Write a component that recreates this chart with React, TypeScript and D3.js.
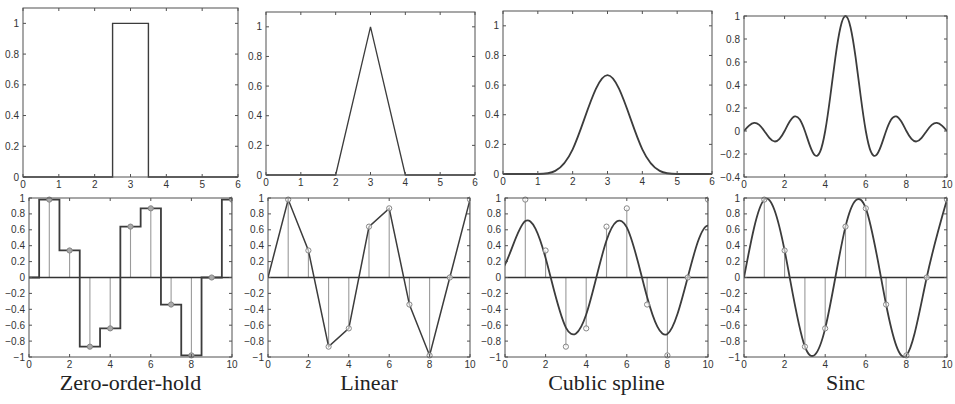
import React from "react";
import * as d3 from "d3";

// ---------- data ----------
const sampleX = [0, 1, 2, 3, 4, 5, 6, 7, 8, 9, 10];
const sampleY = [0, 0.98, 0.34, -0.87, -0.64, 0.64, 0.87, -0.34, -0.98, 0, 0.98];

const rectKernelX = [0, 2.5, 3.5, 6];
const rectKernelY = [0, 1, 0, 0];

const triKernelX = [0, 2, 3, 4, 6];
const triKernelY = [0, 0, 1, 0, 0];

const cubicCtrlX = [-1, 0, 1, 2, 3, 4, 5, 6, 7];
const cubicCtrlY = [0, 0, 0, 0, 1, 0, 0, 0, 0];

const sincKernelX = [
  0, 0.25, 0.5, 0.75, 1, 1.25, 1.5, 1.75, 2, 2.25, 2.5, 2.75, 3, 3.25, 3.5, 3.75, 4, 4.25, 4.5, 4.75,
  5, 5.25, 5.5, 5.75, 6, 6.25, 6.5, 6.75, 7, 7.25, 7.5, 7.75, 8, 8.25, 8.5, 8.75, 9, 9.25, 9.5, 9.75, 10,
];
const sincKernelY = [
  0, 0.047, 0.071, 0.053, 0, -0.06, -0.091, -0.069, 0, 0.082, 0.127, 0.1, 0, -0.129, -0.212, -0.18,
  0, 0.3, 0.637, 0.9, 1, 0.9, 0.637, 0.3, 0, -0.18, -0.212, -0.129, 0, 0.1, 0.127, 0.082, 0, -0.069,
  -0.091, -0.06, 0, 0.053, 0.071, 0.047, 0,
];

const topXTicks = [0, 1, 2, 3, 4, 5, 6];
const wideXTicks = [0, 2, 4, 6, 8, 10];
const topYTicks = [0, 0.2, 0.4, 0.6, 0.8, 1];
const sincTopYTicks = [-0.4, -0.2, 0, 0.2, 0.4, 0.6, 0.8, 1];
const bottomYTicks = [-1, -0.8, -0.6, -0.4, -0.2, 0, 0.2, 0.4, 0.6, 0.8, 1];

const captions = ["Zero-order-hold", "Linear", "Cublic spline", "Sinc"];

// ---------- layout ----------
type Box = { l: number; r: number; t: number; b: number };
const topBoxes: Box[] = [
  { l: 23, r: 238, t: 8, b: 177 },
  { l: 266, r: 475, t: 12, b: 175 },
  { l: 503, r: 712, t: 11, b: 174 },
  { l: 744, r: 947, t: 16, b: 177 },
];
const botBoxes: Box[] = [
  { l: 29, r: 232, t: 198, b: 357 },
  { l: 268, r: 470, t: 198, b: 357 },
  { l: 505, r: 708, t: 198, b: 357 },
  { l: 744, r: 947, t: 198, b: 357 },
];

const LINE = "#3c3c3c";
const BOX = "#505050";
const STEM = "#9a9a9a";
const MARK = "#858585";
const LABEL = "#333";
const FONT = "'Liberation Sans', Arial, Helvetica, sans-serif";

const fmt = (v: number) => {
  const s = d3.format("~g")(Math.round(v * 10) / 10);
  return s.replace("-", "\u2212");
};

type Scales = { x: d3.ScaleLinear<number, number>; y: d3.ScaleLinear<number, number> };

function Panel({
  id,
  box,
  xDomain,
  yDomain,
  xTicks,
  yTicks,
  children,
}: {
  id: string;
  box: Box;
  xDomain: [number, number];
  yDomain: [number, number];
  xTicks: number[];
  yTicks: number[];
  children: (s: Scales) => React.ReactNode;
}) {
  const x = d3.scaleLinear().domain(xDomain).range([box.l, box.r]);
  const y = d3.scaleLinear().domain(yDomain).range([box.b, box.t]);
  const tl = 3;
  return (
    <g>
      <defs>
        <clipPath id={id}>
          <rect x={box.l} y={box.t - 2} width={box.r - box.l} height={box.b - box.t + 4} />
        </clipPath>
      </defs>
      <g clipPath={`url(#${id})`}>{children({ x, y })}</g>
      <rect
        x={box.l}
        y={box.t}
        width={box.r - box.l}
        height={box.b - box.t}
        fill="none"
        stroke={BOX}
        strokeWidth={1}
      />
      {xTicks.map((v) => (
        <g key={"xt" + v}>
          <line x1={x(v)} x2={x(v)} y1={box.b} y2={box.b - tl} stroke={BOX} />
          <line x1={x(v)} x2={x(v)} y1={box.t} y2={box.t + tl} stroke={BOX} />
          <text
            x={x(v)}
            y={box.b + 10.5}
            textAnchor="middle"
            fontFamily={FONT}
            fontSize={10}
            fill={LABEL}
          >
            {fmt(v)}
          </text>
        </g>
      ))}
      {yTicks.map((v) => (
        <g key={"yt" + v}>
          <line x1={box.l} x2={box.l + tl} y1={y(v)} y2={y(v)} stroke={BOX} />
          <line x1={box.r} x2={box.r - tl} y1={y(v)} y2={y(v)} stroke={BOX} />
          <text
            x={box.l - 4}
            y={y(v)}
            dy="0.35em"
            textAnchor="end"
            fontFamily={FONT}
            fontSize={10}
            fill={LABEL}
          >
            {fmt(v)}
          </text>
        </g>
      ))}
    </g>
  );
}

function pathOf(xs: number[], ys: number[], s: Scales, curve: d3.CurveFactory) {
  const pts = xs.map((xv, i) => [xv, ys[i]] as [number, number]);
  return (
    d3
      .line<[number, number]>()
      .x((d) => s.x(d[0]))
      .y((d) => s.y(d[1]))
      .curve(curve)(pts) || ""
  );
}

function Samples({ s, filled, curve }: { s: Scales; filled: boolean; curve: React.ReactNode }) {
  return (
    <g>
      {sampleX.map((xv, i) => (
        <line
          key={"st" + i}
          x1={s.x(xv)}
          x2={s.x(xv)}
          y1={s.y(0)}
          y2={s.y(sampleY[i])}
          stroke={STEM}
          strokeWidth={1.1}
        />
      ))}
      <line x1={s.x.range()[0]} x2={s.x.range()[1]} y1={s.y(0)} y2={s.y(0)} stroke="#333" strokeWidth={1.3} />
      {curve}
      {sampleX.map((xv, i) =>
        i === 0 ? null : (
          <circle
            key={"mk" + i}
            cx={s.x(xv)}
            cy={s.y(sampleY[i])}
            r={2.6}
            fill={filled ? "#aaa" : "#fff"}
            fillOpacity={filled ? 1 : 0.6}
            stroke={MARK}
            strokeWidth={1}
          />
        )
      )}
    </g>
  );
}

export default function App() {
  const padX = [-2, -1, ...sampleX, 11, 12];
  const padY = [0, 0, ...sampleY, 0, 0];
  return (
    <svg
      width={955}
      height={404}
      style={{ position: "absolute", left: 0, top: 0, background: "#fff" }}
    >
      <rect width={955} height={404} fill="#fff" />
      {/* top row: kernels */}
      <Panel id="t1" box={topBoxes[0]} xDomain={[0, 6]} yDomain={[0, 1.1]} xTicks={topXTicks} yTicks={topYTicks}>
        {(s) => (
          <path d={pathOf(rectKernelX, rectKernelY, s, d3.curveStepAfter)} fill="none" stroke={LINE} strokeWidth={1.4} />
        )}
      </Panel>
      <Panel id="t2" box={topBoxes[1]} xDomain={[0, 6]} yDomain={[0, 1.1]} xTicks={topXTicks} yTicks={topYTicks}>
        {(s) => (
          <path d={pathOf(triKernelX, triKernelY, s, d3.curveLinear)} fill="none" stroke={LINE} strokeWidth={1.3} />
        )}
      </Panel>
      <Panel id="t3" box={topBoxes[2]} xDomain={[0, 6]} yDomain={[0, 1.1]} xTicks={topXTicks} yTicks={topYTicks}>
        {(s) => (
          <path d={pathOf(cubicCtrlX, cubicCtrlY, s, d3.curveBasis)} fill="none" stroke={LINE} strokeWidth={1.8} />
        )}
      </Panel>
      <Panel id="t4" box={topBoxes[3]} xDomain={[0, 10]} yDomain={[-0.4, 1]} xTicks={wideXTicks} yTicks={sincTopYTicks}>
        {(s) => (
          <path d={pathOf(sincKernelX, sincKernelY, s, d3.curveNatural)} fill="none" stroke={LINE} strokeWidth={1.8} />
        )}
      </Panel>

      {/* bottom row: reconstructions */}
      <Panel id="b1" box={botBoxes[0]} xDomain={[0, 10]} yDomain={[-1, 1]} xTicks={wideXTicks} yTicks={bottomYTicks}>
        {(s) => (
          <Samples
            s={s}
            filled={true}
            curve={<path d={pathOf(sampleX, sampleY, s, d3.curveStep)} fill="none" stroke={LINE} strokeWidth={1.8} />}
          />
        )}
      </Panel>
      <Panel id="b2" box={botBoxes[1]} xDomain={[0, 10]} yDomain={[-1, 1]} xTicks={wideXTicks} yTicks={bottomYTicks}>
        {(s) => (
          <Samples
            s={s}
            filled={false}
            curve={<path d={pathOf(sampleX, sampleY, s, d3.curveLinear)} fill="none" stroke={LINE} strokeWidth={1.5} />}
          />
        )}
      </Panel>
      <Panel id="b3" box={botBoxes[2]} xDomain={[0, 10]} yDomain={[-1, 1]} xTicks={wideXTicks} yTicks={bottomYTicks}>
        {(s) => (
          <Samples
            s={s}
            filled={false}
            curve={<path d={pathOf(padX, padY, s, d3.curveBasis)} fill="none" stroke={LINE} strokeWidth={1.8} />}
          />
        )}
      </Panel>
      <Panel id="b4" box={botBoxes[3]} xDomain={[0, 10]} yDomain={[-1, 1]} xTicks={wideXTicks} yTicks={bottomYTicks}>
        {(s) => (
          <Samples
            s={s}
            filled={false}
            curve={<path d={pathOf(sampleX, sampleY, s, d3.curveNatural)} fill="none" stroke={LINE} strokeWidth={1.8} />}
          />
        )}
      </Panel>

      {captions.map((c, i) => (
        <text
          key={c}
          x={(botBoxes[i].l + botBoxes[i].r) / 2}
          y={390}
          textAnchor="middle"
          fontFamily="'Liberation Serif', 'Times New Roman', serif"
          fontSize={22}
          fill="#222"
        >
          {c}
        </text>
      ))}
    </svg>
  );
}
